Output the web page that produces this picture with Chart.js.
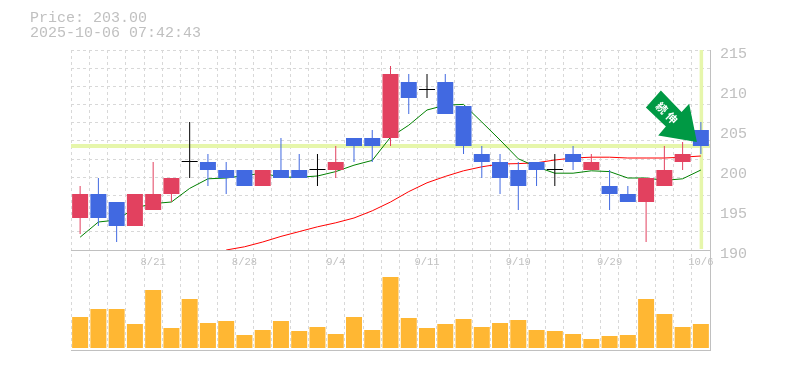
<!DOCTYPE html>
<html><head><meta charset="utf-8">
<style>html,body{margin:0;padding:0;background:#fff}canvas{display:block}
#t{position:absolute;left:30px;top:11px;font:15px/15px "Liberation Mono",monospace;color:#c0c0c0;white-space:pre;z-index:2}</style>
<script src="https://cdn.jsdelivr.net/npm/chart.js@4"></script>
</head><body>
<div id="t">Price: 203.00
2025-10-06 07:42:43</div>
<div style="width:785px;height:370px"><canvas id="c" width="785" height="370"></canvas></div>
<script>
const categories=["8/15","8/18","8/19","8/20","8/21","8/22","8/25","8/26","8/27","8/28","8/29","9/1","9/2","9/3","9/4","9/5","9/8","9/9","9/10","9/11","9/12","9/16","9/17","9/18","9/19","9/22","9/24","9/25","9/26","9/29","9/30","10/1","10/2","10/3","10/6"];
const opens =[194,197,196,193,195,197,201,201,200,200,198,200,200,200,200,204,204,204,211,210,211,208,202,201,200,201,200,202,200,198,197,196,198,201,205];
const closes=[197,194,193,197,197,199,201,200,199,198,200,199,199,200,201,203,203,212,209,210,207,203,201,199,198,200,200,201,201,197,196,199,200,202,203];
const highs =[198,199,196,197,201,199,206,202,201,200,200,204,202,202,203,204,205,213,212,212,212,208,203,202,201,201,202,203,202,200,198,199,203,203.5,206];
const lows  =[192,193,191,193,195,196,199,198,197,198,198,199,199,198,199,201,201,203,207,209,207,202,199,197,195,198,198,200,200,195,196,191,198,200,202];
const maShort=[191.6,193.5,193.75,195.25,195.8,196,197.7,198.9,199,199.3,199.6,199.1,199.1,199.25,199.8,200.6,201.2,204.1,205.6,207.5,208.1,208.2,206,203.75,201.4,200.4,199.6,199.6,199.9,199.8,199,199,198.7,198.9,200];
const maLong=[null,null,null,null,null,null,null,null,190,190.4,191,191.7,192.3,192.9,193.4,194,194.9,196,197.3,198.4,199.2,199.9,200.4,200.75,200.8,200.9,201.25,201.5,201.6,201.6,201.5,201.5,201.5,201.6,201.75];
const volumes=[31,39,39,24,58,20,49,25,27,13,18,27,17,21,14,31,18,71,30,20,24,29,21,25,28,18,17,14,9,12,13,49,34,21,24];
const currentPrice=203;
const labelEvery=5, labelStart=4;
const priceTicks=[190,195,200,205,210,215];
const signalText="続伸";

const GRID="#d8d8d8",AXIS="#c0c0c0",UP="#e2415f",DOWN="#4169e1",HILITE="#e6f6ab";
const colorFor=i=>opens[i]===closes[i]?"#000000":(closes[i]>opens[i]?UP:DOWN);
const FONT='"Liberation Mono",monospace';

const decor={id:"decor",
 beforeDatasetsDraw(c){
  const {ctx,chartArea:a,scales:{x,y}}=c;
  ctx.save();ctx.strokeStyle=HILITE;
  ctx.lineWidth=4;ctx.beginPath();const py=y.getPixelForValue(currentPrice);ctx.moveTo(a.left,py);ctx.lineTo(a.right,py);ctx.stroke();
  ctx.lineWidth=3.5;ctx.beginPath();const px=x.getPixelForValue(categories.length-1)+0.5;ctx.moveTo(px,y.top);ctx.lineTo(px,y.bottom-1);ctx.stroke();
  ctx.restore();
 },
 afterDatasetsDraw(c){
  const {ctx,chartArea:a,scales:{x,y}}=c;
  ctx.save();
  ctx.strokeStyle=AXIS;ctx.lineWidth=1;ctx.beginPath();ctx.moveTo(a.left,a.bottom+.5);ctx.lineTo(a.right+1,a.bottom+.5);ctx.stroke();
  ctx.beginPath();ctx.moveTo(a.right+.5,a.top);ctx.lineTo(a.right+.5,a.bottom);ctx.stroke();
  // signal arrow anchored to the last bar
  const tx=x.getPixelForValue(categories.length-1)-4,ty=y.getPixelForValue(currentPrice)-4;
  const pts=[[0,0],[-7.7,-38.3],[-15.3,-30],[-36,-51.6],[-51,-34.6],[-31,-15.6],[-38.7,-6.6]];
  ctx.fillStyle="#009944";ctx.beginPath();pts.forEach((p,i)=>i?ctx.lineTo(tx+p[0],ty+p[1]):ctx.moveTo(tx+p[0],ty+p[1]));ctx.closePath();ctx.fill();
  ctx.translate(tx-30,ty-29);ctx.rotate(Math.PI/4);
  ctx.fillStyle="#fff";ctx.font='bold 11px "Noto Sans CJK JP"';ctx.textAlign="center";ctx.textBaseline="middle";
  ctx.fillText(signalText[0],-7,0);ctx.fillText(signalText[1],7,0);
  ctx.restore();
 }};

new Chart(document.getElementById("c"),{
 data:{labels:categories,datasets:[
  {type:"bar",label:"Body",yAxisID:"y",order:1,grouped:false,barThickness:16,minBarLength:1,inflateAmount:0,borderWidth:0,
   data:opens.map((o,i)=>[o,closes[i]]),backgroundColor:categories.map((_,i)=>colorFor(i))},
  {type:"bar",label:"Wick",yAxisID:"y",order:2,grouped:false,barThickness:1,inflateAmount:0,borderWidth:0,
   data:lows.map((l,i)=>[l,highs[i]]),backgroundColor:categories.map((_,i)=>colorFor(i))},
  {type:"line",label:"MA short",yAxisID:"y",order:3,data:maShort,borderColor:"#008000",borderWidth:1,pointRadius:0,tension:0},
  {type:"line",label:"MA long",yAxisID:"y",order:4,data:maLong,borderColor:"#ff0000",borderWidth:1,pointRadius:0,tension:0},
  {type:"bar",label:"Volume",yAxisID:"yv",order:5,grouped:false,barThickness:16,inflateAmount:0,borderWidth:0,data:volumes,backgroundColor:"#ffb733"}
 ]},
 options:{responsive:false,animation:false,events:[],
  layout:{padding:{left:71,top:50,right:0,bottom:20}},
  plugins:{legend:{display:false},tooltip:{enabled:false},title:{display:false}},
  scales:{
   x:{type:"category",position:{y:190},offset:true,
    grid:{color:GRID,lineWidth:1,offset:true,drawTicks:false},
    border:{color:AXIS,width:1,dash:[3,3]},
    ticks:{autoSkip:false,maxRotation:0,padding:6,color:AXIS,font:{family:FONT,size:10.5},
     callback(v,i){return (i-labelStart)%labelEvery===0?categories[i]:"";}}},
   y:{type:"linear",position:"right",stack:"p",stackWeight:2,min:190,max:215,
    afterBuildTicks(s){s.ticks=priceTicks.map(value=>({value}));},
    afterFit(s){s.width=75;},
    grid:{display:false},border:{display:false},
    ticks:{autoSkip:false,padding:2,color:AXIS,font:{family:FONT,size:15,lineHeight:"8px"},callback:v=>["",String(v)]}},
   yv:{type:"linear",position:"right",stack:"p",stackWeight:1,min:-2,max:98,
    afterFit(s){s.width=75;},
    grid:{display:false},border:{display:false},ticks:{display:false}},
   yg:{type:"linear",position:"left",min:0,max:16.5,
    afterBuildTicks(s){const t=[];for(let k=5.5;k<=16.5;k+=1)t.push({value:k});s.ticks=t;},
    afterFit(s){s.width=0;},
    grid:{color:GRID,lineWidth:1,drawTicks:false},border:{display:false,dash:[3,3]},ticks:{display:false}}
  }
 },
 plugins:[decor]
});
</script>
</body></html>
